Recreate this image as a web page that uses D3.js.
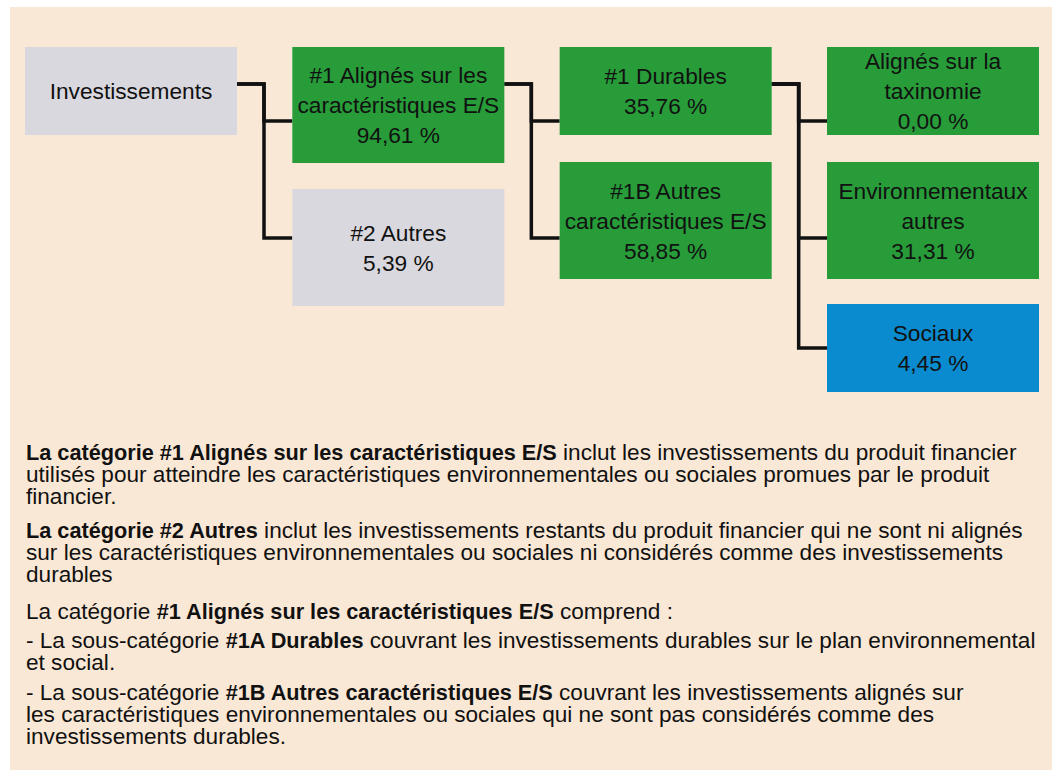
<!DOCTYPE html>
<html>
<head>
<meta charset="utf-8">
<script src="https://cdn.jsdelivr.net/npm/d3@7"></script>
<style>
  body { margin: 0; background: #fff; }
  svg { display: block; font-family: "Liberation Sans", Arial, sans-serif; }
</style>
</head>
<body>
<svg id="chart"></svg>
<script>
var width = 1054;
var height = 771;

// tree data
var nodeIds     = ["inv", "n1", "n2", "n1a", "n1b", "taxo", "env", "soc"];
var nodeParents = ["", "inv", "inv", "n1", "n1", "n1a", "n1a", "n1a"];
var nodeLabels  = [
  ["Investissements"],
  ["#1 Alignés sur les", "caractéristiques E/S"],
  ["#2 Autres"],
  ["#1 Durables"],
  ["#1B Autres", "caractéristiques E/S"],
  ["Alignés sur la", "taxinomie"],
  ["Environnementaux", "autres"],
  ["Sociaux"]
];
var nodeValues  = [null, 94.61, 5.39, 35.76, 58.85, 0.00, 31.31, 4.45];
var nodeKinds   = ["other", "aligned", "other", "aligned", "aligned", "aligned", "aligned", "social"];

// notes under the tree: each line is a list of [text, bold]
var notes = [
  [
    [["La catégorie #1 Alignés sur les caractéristiques E/S", true], [" inclut les investissements du produit financier", false]],
    [["utilisés pour atteindre les caractéristiques environnementales ou sociales promues par le produit", false]],
    [["financier.", false]]
  ],
  [
    [["La catégorie #2 Autres", true], [" inclut les investissements restants du produit financier qui ne sont ni alignés", false]],
    [["sur les caractéristiques environnementales ou sociales ni considérés comme des investissements", false]],
    [["durables", false]]
  ],
  [
    [["La catégorie ", false], ["#1 Alignés sur les caractéristiques E/S", true], [" comprend :", false]]
  ],
  [
    [["- La sous-catégorie ", false], ["#1A Durables", true], [" couvrant les investissements durables sur le plan environnemental", false]],
    [["et social.", false]]
  ],
  [
    [["- La sous-catégorie ", false], ["#1B Autres caractéristiques E/S", true], [" couvrant les investissements alignés sur", false]],
    [["les caractéristiques environnementales ou sociales qui ne sont pas considérés comme des", false]],
    [["investissements durables.", false]]
  ]
];

// layout
var boxW = 212;
var boxLayout = {
  inv:  { top: 47,  h: 88 },
  n1:   { top: 47,  h: 116 },
  n2:   { top: 189, h: 117 },
  n1a:  { top: 47,  h: 88 },
  n1b:  { top: 162, h: 117 },
  taxo: { top: 47,  h: 88 },
  env:  { top: 162, h: 117 },
  soc:  { top: 304, h: 88 }
};
var linkInY = { n1: 121, n2: 238, n1a: 121, n1b: 238, taxo: 121, env: 238, soc: 348 };
var linkOutY = 84;
var elbow = 27;
var noteStarts = [460, 538, 619, 648, 700];
var noteLineH = 21.8;

var color = d3.scaleOrdinal()
  .domain(["other", "aligned", "social"])
  .range(["#d9d8de", "#279c39", "#0a8bd0"]);

var fr = d3.formatLocale({ decimal: ",", thousands: " ", grouping: [3], currency: ["", " €"] });
var fmt = fr.format(".2f");

var colX = d3.scaleLinear().domain([0, 3]).range([25, 827]);

var rows = nodeIds.map(function(id, i) {
  return { id: id, parent: nodeParents[i], label: nodeLabels[i], value: nodeValues[i], kind: nodeKinds[i] };
});
var root = d3.stratify()
  .id(function(d) { return d.id; })
  .parentId(function(d) { return d.parent || null; })(rows);

root.each(function(n) {
  n.x0 = colX(n.depth);
  n.y0 = boxLayout[n.id].top;
  n.h = boxLayout[n.id].h;
});

var svg = d3.select('#chart')
  .attr('width', width)
  .attr('height', height);

svg.append('rect')
  .attr('x', 10).attr('y', 7)
  .attr('width', 1042).attr('height', 763)
  .attr('fill', '#fae8d6');

// connectors
svg.append('g').attr('class', 'links')
  .selectAll('path')
  .data(root.links())
  .enter().append('path')
    .attr('fill', 'none')
    .attr('stroke', '#111')
    .attr('stroke-width', 3.5)
    .attr('d', function(l) {
      var p = d3.path();
      var sx = l.source.x0 + boxW;
      var ex = sx + elbow;
      p.moveTo(sx, linkOutY);
      p.lineTo(ex, linkOutY);
      p.lineTo(ex, linkInY[l.target.id]);
      p.lineTo(l.target.x0, linkInY[l.target.id]);
      return p.toString();
    });

// boxes
var node = svg.append('g').attr('class', 'nodes')
  .selectAll('g')
  .data(root.descendants())
  .enter().append('g')
    .attr('transform', function(n) { return 'translate(' + n.x0 + ',' + n.y0 + ')'; });

node.append('rect')
  .attr('width', boxW)
  .attr('height', function(n) { return n.h; })
  .attr('fill', function(n) { return color(n.data.kind); });

node.append('text')
  .attr('text-anchor', 'middle')
  .attr('font-size', 22.7)
  .attr('fill', '#111')
  .each(function(n) {
    var lines = n.data.label.slice();
    if (n.data.value !== null) lines.push(fmt(n.data.value) + ' %');
    var cy = n.h / 2 + 8;
    var t = d3.select(this);
    lines.forEach(function(s, i) {
      t.append('tspan')
        .attr('x', boxW / 2)
        .attr('y', cy + (i - (lines.length - 1) / 2) * 30)
        .text(s);
    });
  });

// notes
var noteG = svg.append('g').attr('class', 'notes')
  .attr('fill', '#111');

notes.forEach(function(par, pi) {
  par.forEach(function(line, li) {
    var t = noteG.append('text')
      .attr('x', 26)
      .attr('y', noteStarts[pi] + li * noteLineH)
      .style('white-space', 'pre');
    line.forEach(function(seg) {
      t.append('tspan')
        .attr('font-weight', seg[1] ? 'bold' : 'normal')
        .attr('font-size', seg[1] ? 21.7 : 22.6)
        .text(seg[0]);
    });
  });
});
</script>
</body>
</html>
